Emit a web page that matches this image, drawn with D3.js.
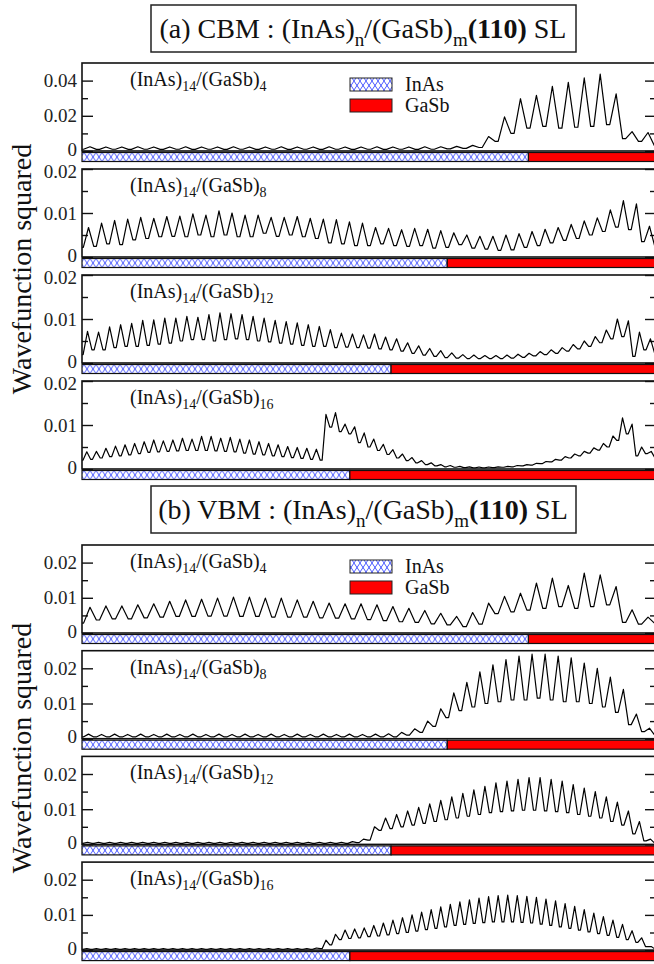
<!DOCTYPE html>
<html lang="en">
<head>
<meta charset="UTF-8" />
<title>Wavefunction squared</title>
<script src="https://d3js.org/d3.v7.min.js"></script>
<style>
  body { margin: 0; background: #fff; }
  svg { display: block; font-family: "Liberation Serif", "Times New Roman", Times, serif; }
</style>
</head>
<body>
<svg width="654" height="964" font-family="Liberation Serif, Times New Roman, serif"></svg>
<script>
// layer counts of the superlattices, (InAs)14/(GaSb)m
var inasLayers = 14;
var gasbLayers = [4, 8, 12, 16];
var materials = ["InAs", "GaSb"];

// |psi|^2 in units of 1e-3: maxima and minima of each zigzag
var cbm4Peaks = [2.4,2.3,2.3,2.4,2.3,2.3,2.4,2.3,2.3,2.4,2.3,2.3,2.4,2.3,2.3,2.4,2.3,2.3,2.4,2.3,2.3,2.4,2.4,2.6,3.2,8.2,19.4,29.7,31.6,36.8,39.0,41.5,43.7,32.5,11.0,10.5];
var cbm4Troughs = [1.0,0.9,1.0,0.9,1.0,0.9,1.0,0.9,1.0,0.9,1.0,0.9,1.0,0.9,1.0,0.9,1.0,0.9,1.0,0.9,1.0,0.9,1.0,1.2,1.5,2.0,5.5,10.0,13.0,14.0,13.0,13.5,14.0,15.0,7.0,5.5,3.0];
var cbm8Peaks = [6.7,7.7,8.3,8.6,9.0,8.8,9.2,9.3,9.8,9.5,10.5,10.0,9.5,9.5,9.0,9.0,9.2,8.8,8.6,8.5,8.0,7.7,6.7,6.5,6.2,6.5,6.3,6.0,5.5,5.0,4.7,4.7,5.0,5.3,5.8,6.3,6.7,7.4,8.2,8.9,10.7,12.8,12.1,7.0];
var cbm8Troughs = [2.2,2.4,3.0,2.8,3.9,4.2,4.6,4.7,4.6,5.0,4.6,5.0,4.6,4.6,5.4,4.7,5.0,4.6,4.2,3.2,3.0,2.6,2.6,3.0,2.6,2.4,2.6,2.0,2.2,2.8,2.0,1.8,1.5,1.6,2.2,2.6,3.2,3.8,4.2,5.0,5.8,6.8,6.2,3.5,2.5];
var cbm12Peaks = [7.2,7.0,8.2,8.7,9.0,9.7,9.8,10.2,10.2,10.6,10.4,11.0,11.4,11.2,11.0,10.6,10.2,9.7,9.4,9.1,8.7,8.3,7.6,6.8,6.6,6.4,6.6,5.9,5.5,4.6,3.9,3.3,2.8,2.3,1.9,1.8,1.7,1.7,1.8,2.0,2.2,2.6,3.0,3.5,4.2,5.0,6.0,7.5,10.0,9.6,7.0,5.5];
var cbm12Troughs = [1.9,3.0,3.0,3.5,3.8,3.8,4.0,4.3,4.5,5.0,5.3,5.3,5.0,5.3,5.5,5.3,5.0,4.8,4.5,4.3,4.0,3.8,3.8,3.5,3.6,3.5,3.4,3.2,3.0,2.7,2.2,1.8,1.5,1.2,1.1,1.0,1.0,1.0,1.0,1.1,1.3,1.6,1.9,2.2,2.7,3.2,3.8,4.6,5.5,6.0,1.5,3.0,2.0];
var cbm16Peaks = [3.9,4.0,4.7,5.2,5.5,5.8,6.2,6.6,6.4,6.6,7.0,6.8,7.4,7.4,7.0,7.2,6.8,6.6,6.2,5.8,5.5,5.1,4.9,4.7,4.5,12.4,12.8,10.2,9.6,8.2,6.8,5.6,4.4,3.4,2.6,1.9,1.4,1.0,0.8,0.6,0.5,0.45,0.45,0.5,0.6,0.8,1.0,1.3,1.7,2.2,2.8,3.4,4.0,4.8,5.8,7.5,11.6,10.2,5.0,4.0];
var cbm16Troughs = [2.0,2.2,2.5,2.8,3.0,3.2,3.5,3.8,3.9,4.0,4.1,4.2,4.2,4.2,4.1,4.0,3.9,3.6,3.4,3.2,3.0,2.8,2.6,2.4,2.2,2.0,9.5,8.5,8.0,6.0,5.0,4.2,3.3,2.5,1.9,1.4,1.0,0.7,0.5,0.4,0.3,0.25,0.25,0.3,0.4,0.5,0.7,0.9,1.2,1.6,2.0,2.5,3.0,3.6,4.3,5.0,6.5,8.0,3.0,3.5,2.5];

var vbm4Peaks = [7.3,7.7,7.7,8.0,8.3,9.0,9.4,9.6,9.9,10.2,10.2,9.9,9.9,9.4,9.0,8.5,8.3,8.3,8.0,7.5,7.0,6.4,5.6,4.7,5.8,8.5,10.4,11.3,14.2,15.6,13.5,17.0,16.5,13.2,6.6,4.5];
var vbm4Troughs = [2.8,3.7,4.0,4.0,4.3,4.5,4.7,4.7,4.8,4.8,4.7,4.7,4.5,4.5,4.5,4.3,4.2,4.0,3.8,3.5,3.2,3.0,2.6,2.3,1.8,2.5,5.5,6.0,6.5,7.0,7.5,7.0,7.5,8.0,3.0,2.5,2.8];
var vbm8Peaks = [1.3,1.2,1.3,1.2,1.3,1.2,1.3,1.2,1.3,1.2,1.3,1.2,1.3,1.2,1.3,1.2,1.3,1.2,1.3,1.2,1.3,1.2,1.3,1.4,1.8,2.8,5.0,8.5,13.0,16.0,19.0,21.0,22.5,23.5,24.0,24.0,23.5,23.0,21.5,20.0,17.5,14.0,7.0,3.0];
var vbm8Troughs = [0.5,0.5,0.5,0.5,0.5,0.5,0.5,0.5,0.5,0.5,0.5,0.5,0.5,0.5,0.5,0.5,0.5,0.5,0.5,0.5,0.5,0.5,0.5,0.5,0.5,1.0,1.8,3.5,6.0,8.0,9.0,10.0,10.5,11.0,11.0,11.5,11.0,10.5,10.5,10.0,9.0,7.5,4.0,2.0,1.0];
var vbm12Peaks = [0.6,0.6,0.6,0.6,0.6,0.6,0.6,0.6,0.6,0.6,0.6,0.6,0.6,0.6,0.6,0.6,0.6,0.6,0.6,0.6,0.6,0.6,0.6,0.6,0.8,1.5,5.0,7.5,8.5,9.5,10.5,11.5,12.5,13.5,14.5,15.5,16.5,17.5,18.0,18.5,19.0,19.0,18.5,18.0,17.0,16.0,15.0,13.5,12.0,9.5,6.5,1.5];
var vbm12Troughs = [0.3,0.3,0.3,0.3,0.3,0.3,0.3,0.3,0.3,0.3,0.3,0.3,0.3,0.3,0.3,0.3,0.3,0.3,0.3,0.3,0.3,0.3,0.3,0.3,0.3,0.5,1.2,4.0,4.5,5.0,5.5,6.0,6.5,7.0,7.5,8.0,8.5,9.0,9.3,9.5,9.7,9.7,9.5,9.3,9.0,8.5,8.0,7.5,6.5,5.5,3.0,1.0,0.3];
var vbm16Peaks = [0.4,0.4,0.4,0.4,0.4,0.4,0.4,0.4,0.4,0.4,0.4,0.4,0.4,0.4,0.4,0.4,0.4,0.4,0.4,0.4,0.4,0.4,0.4,0.4,0.6,2.8,4.5,5.7,6.0,6.3,7.0,7.7,8.5,9.2,10.0,10.8,11.5,12.3,13.0,13.7,14.3,14.8,15.2,15.5,15.6,15.5,15.3,15.0,14.5,14.0,13.2,12.4,11.5,10.5,9.5,8.5,7.3,5.5,3.5,1.0];
var vbm16Troughs = [0.2,0.2,0.2,0.2,0.2,0.2,0.2,0.2,0.2,0.2,0.2,0.2,0.2,0.2,0.2,0.2,0.2,0.2,0.2,0.2,0.2,0.2,0.2,0.2,0.2,0.4,1.5,3.0,3.3,3.5,3.8,4.0,4.3,4.7,5.0,5.4,5.8,6.2,6.6,7.0,7.3,7.6,7.8,8.0,8.0,8.0,7.9,7.7,7.4,7.0,6.6,6.2,5.7,5.2,4.7,4.2,3.6,3.0,2.2,1.0,0.3];

// axis ticks
var cbmYMax = [0.05, 0.02, 0.02, 0.02];
var cbmMajor = [[0, 0.02, 0.04], [0, 0.01, 0.02], [0, 0.01, 0.02], [0, 0.01, 0.02]];
var cbmMinor = [[0.01, 0.03], [0.005, 0.015], [0.005, 0.015], [0.005, 0.015]];
var vbmYMax = [0.025, 0.025, 0.025, 0.025];
var vbmMajor = [[0, 0.01, 0.02], [0, 0.01, 0.02], [0, 0.01, 0.02], [0, 0.01, 0.02]];
var vbmMinor = [[0.005, 0.015], [0.005, 0.015], [0.005, 0.015], [0.005, 0.015]];

var svg = d3.select("svg");
var serif = "Liberation Serif, Times New Roman, serif";
var left = 82, right = 656, plotH = 88, pitch = 106;

var defs = svg.append("defs");
var pat = defs.append("pattern").attr("id", "hatch")
  .attr("patternUnits", "userSpaceOnUse").attr("width", 6).attr("height", 9);
pat.append("rect").attr("width", 6).attr("height", 9).attr("fill", "#fff");
pat.append("path").attr("d", "M0,0L6,9M6,0L0,9")
  .attr("stroke", "#1a2cff").attr("stroke-width", 0.8);

function title(y, label, band) {
  svg.append("rect").attr("x", 151).attr("y", y).attr("width", 425).attr("height", 47)
    .attr("fill", "none").attr("stroke", "#222").attr("stroke-width", 1.5);
  var t = svg.append("text").attr("x", 363).attr("y", y + 33)
    .attr("text-anchor", "middle").attr("font-size", 28).attr("fill", "#111")
    .attr("font-family", serif);
  t.append("tspan").text(label + " " + band + " : (InAs)");
  t.append("tspan").attr("font-size", 19).attr("dy", 8).text("n");
  t.append("tspan").attr("dy", -8).text("/(GaSb)");
  t.append("tspan").attr("font-size", 19).attr("dy", 8).text("m");
  t.append("tspan").attr("dy", -8).attr("font-weight", "bold").text("(110)");
  t.append("tspan").text(" SL");
}

function yLabel(cy) {
  svg.append("text").attr("transform", "translate(31," + cy + ") rotate(-90)")
    .attr("text-anchor", "middle").attr("font-size", 28).attr("fill", "#111")
    .attr("font-family", serif)
    .text("Wavefunction squared");
}

function panel(top, m, peaks, troughs, yMax, major, minor, legend) {
  var g = svg.append("g").attr("transform", "translate(0," + top + ")");
  var x = d3.scaleLinear().domain([0, inasLayers + m]).range([left, right]);
  var y = d3.scaleLinear().domain([0, yMax]).range([plotH, 0]);

  var fmt = function (d) { return d === 0 ? "0" : d3.format(".2f")(d); };
  var axL = g.append("g").attr("transform", "translate(" + left + ",0)")
    .call(d3.axisLeft(y).tickValues(major).tickSize(-11).tickPadding(5).tickFormat(fmt));
  var axLm = g.append("g").attr("transform", "translate(" + left + ",0)")
    .call(d3.axisLeft(y).tickValues(minor).tickSize(-6).tickFormat(""));
  var axR = g.append("g").attr("transform", "translate(" + right + ",0)")
    .call(d3.axisRight(y).tickValues(major).tickSize(-11).tickFormat(""));
  var axRm = g.append("g").attr("transform", "translate(" + right + ",0)")
    .call(d3.axisRight(y).tickValues(minor).tickSize(-6).tickFormat(""));
  [axL, axLm, axR, axRm].forEach(function (a) {
    a.attr("font-family", serif);
    a.select(".domain").remove();
    a.selectAll("line").attr("stroke", "#111").attr("stroke-width", 1.4);
    a.selectAll("text").attr("font-size", 19).attr("fill", "#222");
  });
  // the bottom "0" and a top label of the panel below sit close together: nudge them apart
  axL.selectAll(".tick text").attr("y", function (d) {
    return d === 0 ? -2 : (d === yMax ? 2 : 0);
  });

  // zigzag: a short flat minimum at the start of each half layer, a sharp maximum in its middle
  var pts = [];
  troughs.forEach(function (t, k) {
    pts.push([k / 2 - 0.05, t]);
    pts.push([k / 2 + 0.05, t]);
    if (k < peaks.length) pts.push([(k + 0.5) / 2, peaks[k]]);
  });
  pts[0][0] = 0;
  var line = d3.line().x(function (d) { return x(d[0]); }).y(function (d) { return y(d[1] / 1000); });
  g.append("path").attr("d", line(pts)).attr("fill", "none")
    .attr("stroke", "#000").attr("stroke-width", 1.2).attr("stroke-linejoin", "round");

  g.append("rect").attr("x", left).attr("y", 0).attr("width", right - left).attr("height", plotH)
    .attr("fill", "none").attr("stroke", "#111").attr("stroke-width", 1.6);

  // material strip
  var s = g.append("g").attr("transform", "translate(0," + (plotH + 1.5) + ")");
  s.append("rect").attr("x", x(0)).attr("y", 0).attr("width", x(inasLayers) - x(0)).attr("height", 9)
    .attr("fill", "url(#hatch)").attr("stroke", "#111").attr("stroke-width", 1.2);
  s.append("rect").attr("x", x(inasLayers)).attr("y", 0).attr("width", x(inasLayers + m) - x(inasLayers)).attr("height", 9)
    .attr("fill", "#ff0000").attr("stroke", "#111").attr("stroke-width", 1.2);

  var lab = g.append("text").attr("x", 130).attr("y", 23).attr("font-size", 20).attr("fill", "#111")
    .attr("font-family", serif);
  lab.append("tspan").text("(InAs)");
  lab.append("tspan").attr("font-size", 14).attr("dy", 5).text(inasLayers);
  lab.append("tspan").attr("dy", -5).text("/(GaSb)");
  lab.append("tspan").attr("font-size", 14).attr("dy", 5).text(m);

  if (legend) {
    materials.forEach(function (name, i) {
      var ly = 15 + i * 21;
      g.append("rect").attr("x", 350).attr("y", ly).attr("width", 42).attr("height", 13)
        .attr("fill", i === 0 ? "url(#hatch)" : "#ff0000").attr("stroke", "#222").attr("stroke-width", 1);
      g.append("text").attr("x", 405).attr("y", ly + 13).attr("font-size", 20).attr("fill", "#111")
        .attr("font-family", serif).text(name);
    });
  }
}

var cbmPeaks = [cbm4Peaks, cbm8Peaks, cbm12Peaks, cbm16Peaks];
var cbmTroughs = [cbm4Troughs, cbm8Troughs, cbm12Troughs, cbm16Troughs];
var vbmPeaks = [vbm4Peaks, vbm8Peaks, vbm12Peaks, vbm16Peaks];
var vbmTroughs = [vbm4Troughs, vbm8Troughs, vbm12Troughs, vbm16Troughs];

title(5, "(a)", "CBM");
yLabel(269);
gasbLayers.forEach(function (m, i) {
  panel(63 + i * pitch, m, cbmPeaks[i], cbmTroughs[i], cbmYMax[i], cbmMajor[i], cbmMinor[i], i === 0);
});

title(486, "(b)", "VBM");
yLabel(748);
gasbLayers.forEach(function (m, i) {
  panel(545 + i * 105.7, m, vbmPeaks[i], vbmTroughs[i], vbmYMax[i], vbmMajor[i], vbmMinor[i], i === 0);
});
</script>
</body>
</html>
